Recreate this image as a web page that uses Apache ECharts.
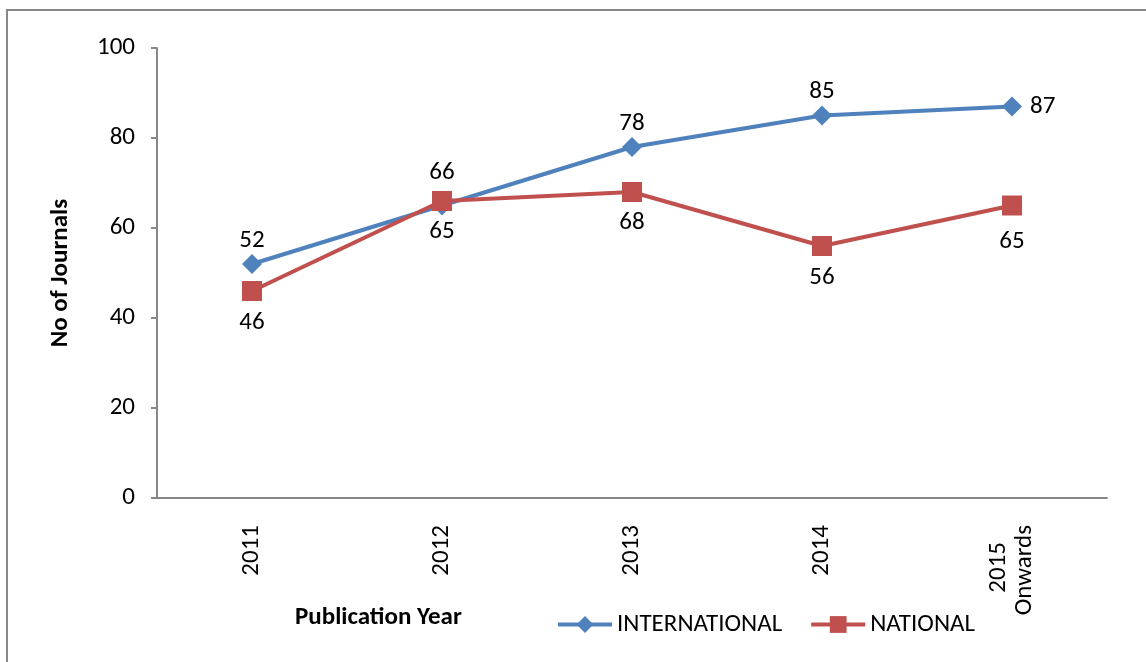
<!DOCTYPE html>
<html>
<head>
<meta charset="utf-8">
<script src="https://cdn.jsdelivr.net/npm/echarts@6/dist/echarts.min.js"></script>
<style>
  html, body { margin: 0; padding: 0; background: #fff; }
  #chart { width: 1146px; height: 662px; }
</style>
</head>
<body>
<div id="chart"></div>
<script>
// Journals published per year, split by international / national
const years = ['2011', '2012', '2013', '2014', '2015\nOnwards'];
const international = [52, 65, 78, 85, 87];
const national = [46, 66, 68, 56, 65];
const yTicks = [0, 20, 40, 60, 80, 100];

// where each value label sits relative to its point, and how far away
const intlLabelPos = ['top', 'bottom', 'top', 'top', 'right'];
const intlLabelGap = [1, 4, 1, 1, 8];
const natLabelPos = ['bottom', 'top', 'bottom', 'bottom', 'bottom'];
const natLabelGap = [9, 6, 8, 9, 14];

const FONT = 'Carlito, Lato, "Open Sans", sans-serif';
const FS = 25;

function withLabels(values, positions, gaps) {
  return values.map((v, i) => ({
    value: v,
    label: { position: positions[i], distance: gaps[i] }
  }));
}

// multi-line category labels: shorter lines are centred against the longest one
function categoryLabel(v) {
  const lines = v.split('\n');
  if (lines.length === 1) return v;
  return lines.map((s, i) => (i === 0 ? '{p|' + s + '}' : '{n|' + s + '}')).join('\n');
}

const chart = echarts.init(document.getElementById('chart'));
chart.setOption({
  animation: false,
  textStyle: { fontFamily: FONT },
  grid: { left: 157, right: 39, top: 48, bottom: 164 },
  graphic: [
    {
      type: 'rect',
      shape: { x: 7, y: 10, width: 1200, height: 700 },
      style: { fill: 'none', stroke: '#888', lineWidth: 2 },
      silent: true
    },
    {
      type: 'text',
      x: 295, y: 618,
      style: {
        text: 'Publication Year', font: 'bold ' + FS + 'px ' + FONT, fill: '#000',
        verticalAlign: 'middle'
      }
    }
  ],
  legend: {
    left: 551, top: 607,
    itemWidth: 54, itemHeight: 21, itemGap: 27,
    lineStyle: { width: 4 },
    textStyle: { fontSize: FS, color: '#000', fontFamily: FONT },
    data: ['INTERNATIONAL', 'NATIONAL']
  },
  xAxis: {
    type: 'category',
    data: years,
    boundaryGap: true,
    axisLine: { lineStyle: { color: '#888', width: 2 } },
    axisTick: { show: false },
    axisLabel: {
      rotate: 90, margin: 27, color: '#000', fontSize: FS, fontFamily: FONT,
      lineHeight: 26,
      formatter: categoryLabel,
      rich: {
        p: { fontSize: FS, fontFamily: FONT, color: '#000', padding: [0, 17, 0, 0], lineHeight: 26 },
        n: { fontSize: FS, fontFamily: FONT, color: '#000', lineHeight: 26 }
      }
    }
  },
  yAxis: {
    type: 'value',
    min: yTicks[0], max: yTicks[yTicks.length - 1], interval: 20,
    name: 'No of Journals',
    nameLocation: 'middle', nameGap: 84, nameRotate: 90,
    nameTextStyle: { fontWeight: 'bold', fontSize: FS, color: '#000', fontFamily: FONT },
    axisLine: { show: true, lineStyle: { color: '#888', width: 2 } },
    axisTick: { show: true, length: 6, lineStyle: { color: '#888', width: 2 } },
    axisLabel: { color: '#000', fontSize: FS, margin: 22, fontFamily: FONT },
    splitLine: { show: false }
  },
  series: [
    {
      name: 'INTERNATIONAL',
      type: 'line',
      data: withLabels(international, intlLabelPos, intlLabelGap),
      color: '#4F81BD',
      lineStyle: { width: 4, color: '#4F81BD' },
      symbol: 'diamond', symbolSize: 20,
      itemStyle: { color: '#4F81BD' },
      label: { show: true, color: '#000', fontSize: FS, fontFamily: FONT },
      z: 2
    },
    {
      name: 'NATIONAL',
      type: 'line',
      data: withLabels(national, natLabelPos, natLabelGap),
      color: '#C0504D',
      lineStyle: { width: 4, color: '#C0504D' },
      symbol: 'rect', symbolSize: 20,
      itemStyle: { color: '#C0504D' },
      label: { show: true, color: '#000', fontSize: FS, fontFamily: FONT },
      z: 3
    }
  ]
});
</script>
</body>
</html>
